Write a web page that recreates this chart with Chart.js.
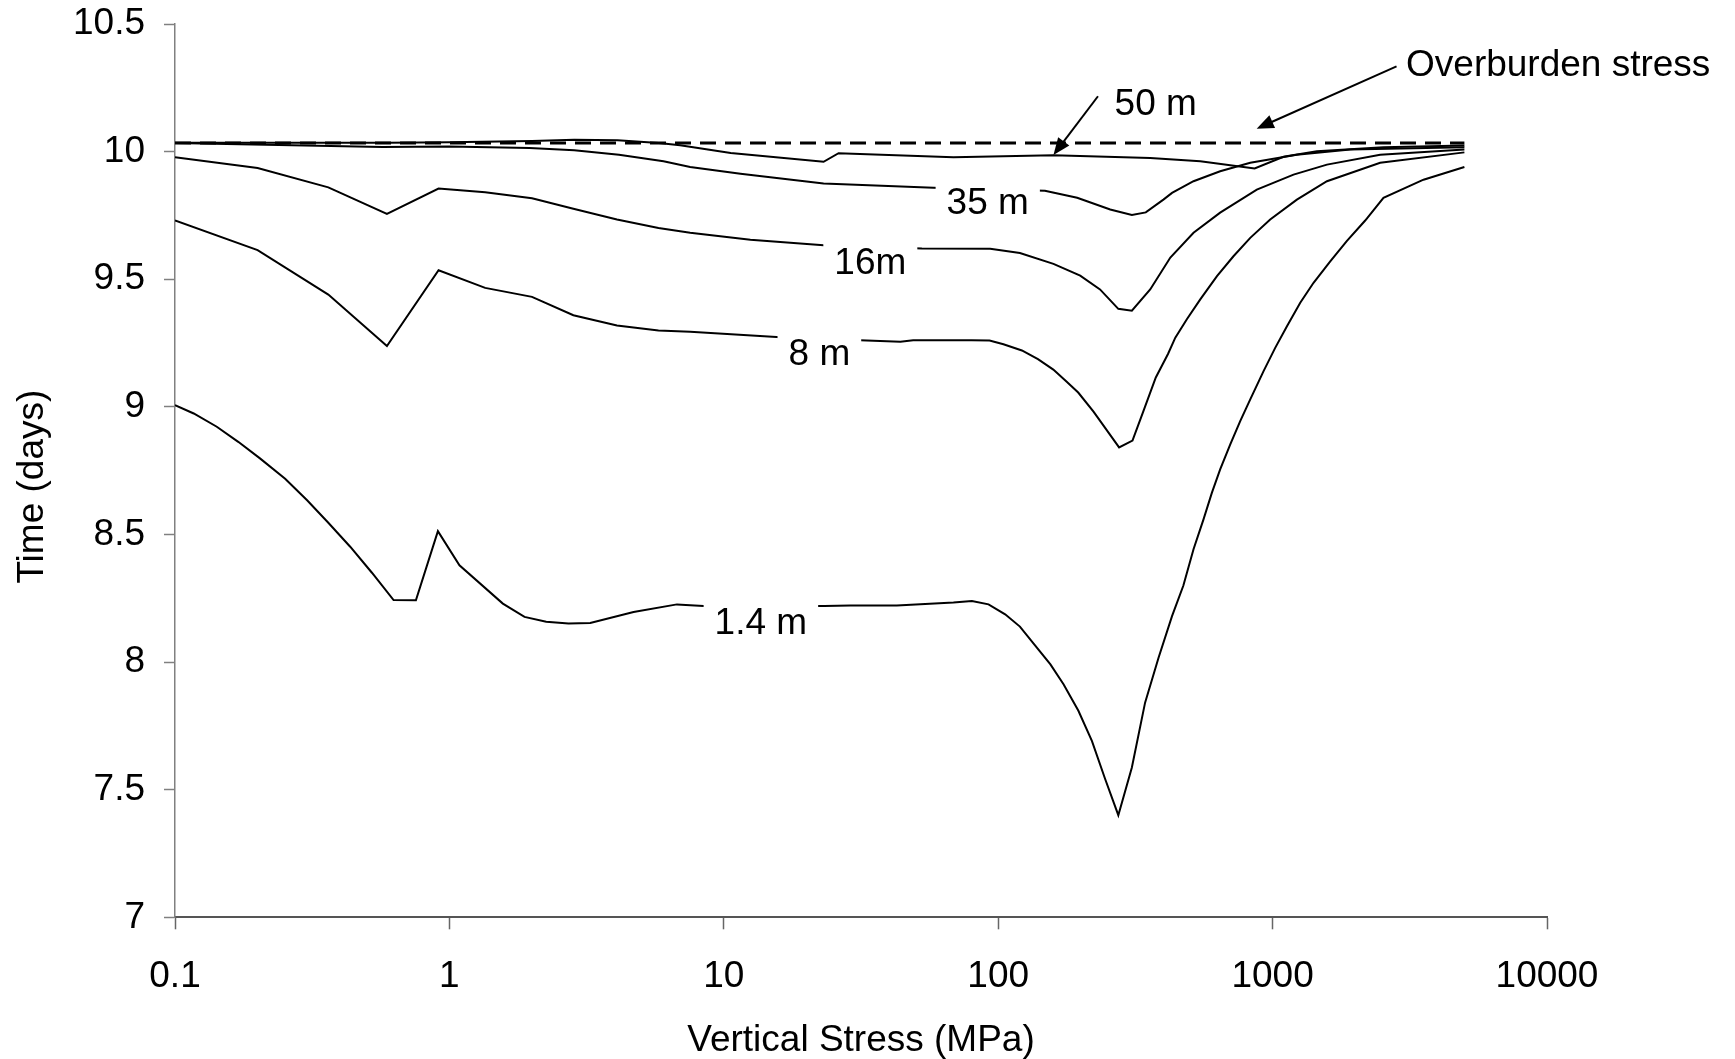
<!DOCTYPE html>
<html>
<head>
<meta charset="utf-8">
<title>Time vs Vertical Stress</title>
<script src="https://cdn.jsdelivr.net/npm/chart.js@4.4.1/dist/chart.umd.min.js"></script>
<style>
    html, body { margin: 0; padding: 0; background: #fff; overflow: hidden; }
    canvas { display: block; }
</style>
</head>
<body>
<canvas id="stressChart" width="1735" height="1059"></canvas>
<script>
// Time (days) against vertical stress (MPa), one curve per depth
// Each curve is a list of [stress, time] pairs

const overburden = [[0.1, 10.034], [5000, 10.034]];

const depth50 = [
    [0.1, 10.035], [0.6, 10.035], [1, 10.037], [2, 10.042], [2.85, 10.046], [4.1, 10.045],
    [5.8, 10.034], [6.93, 10.025], [10.6, 9.995], [23.1, 9.960], [26.2, 9.994], [68.7, 9.978],
    [159, 9.986], [358, 9.975], [545, 9.962], [860, 9.934], [1096, 9.980], [1450, 10.001],
    [2535, 10.017], [5000, 10.024]
];

const depth35 = [
    [0.1, 10.034], [0.57, 10.018], [1, 10.020], [1.96, 10.014], [2.85, 10.005], [4.15, 9.988],
    [6.03, 9.962], [7.54, 9.940], [11.5, 9.913], [23.1, 9.875], [58.1, 9.858], [148, 9.847],
    [194, 9.819], [256, 9.773], [307, 9.752], [345, 9.762], [400, 9.812], [430, 9.838],
    [515, 9.884], [644, 9.923], [829, 9.956], [1224, 9.988], [1918, 10.008], [5000, 10.017]
];

const depth16 = [
    [0.1, 9.978], [0.2, 9.936], [0.362, 9.860], [0.592, 9.756], [0.913, 9.855], [1.35, 9.841],
    [2, 9.817], [2.83, 9.776], [4.08, 9.734], [5.78, 9.701], [7.54, 9.682], [12.5, 9.655],
    [23.1, 9.633], [52.7, 9.620], [93.5, 9.619], [120, 9.603], [159, 9.560], [199, 9.514],
    [235, 9.460], [274, 9.384], [307, 9.377], [358, 9.460], [424, 9.585], [515, 9.682],
    [644, 9.761], [876, 9.851], [1192, 9.910], [1578, 9.949], [2466, 9.988], [5000, 10.008]
];

const depth8 = [
    [0.1, 9.730], [0.2, 9.614], [0.362, 9.440], [0.592, 9.238], [0.913, 9.535], [1.35, 9.466],
    [2, 9.431], [2.83, 9.359], [4.08, 9.319], [5.78, 9.299], [7.54, 9.294], [16.1, 9.273],
    [33.2, 9.260], [44, 9.255], [49, 9.261], [80, 9.261], [93, 9.260], [104.5, 9.245],
    [122, 9.221], [139.6, 9.187], [158.8, 9.146], [177.7, 9.098], [195.7, 9.056], [222.5, 8.981],
    [275.8, 8.841], [308.6, 8.868], [337.7, 8.981], [375.3, 9.115], [416.1, 9.208], [442, 9.271],
    [487, 9.343], [545, 9.421], [627, 9.512], [720, 9.590], [829, 9.662], [980, 9.734],
    [1226, 9.812], [1578, 9.884], [2466, 9.956], [5000, 9.997]
];

const depth1p4 = [
    [0.1, 9.007], [0.117, 8.974], [0.142, 8.922], [0.170, 8.863], [0.204, 8.798], [0.252, 8.718],
    [0.303, 8.634], [0.362, 8.546], [0.435, 8.452], [0.522, 8.350], [0.626, 8.243], [0.755, 8.242],
    [0.908, 8.513], [1.088, 8.379], [1.566, 8.229], [1.878, 8.177], [2.253, 8.158], [2.717, 8.151],
    [3.26, 8.153], [4.69, 8.196], [6.75, 8.226], [8.44, 8.220], [23.2, 8.220], [28.9, 8.222],
    [42.7, 8.222], [68.7, 8.233], [80.2, 8.239], [92.2, 8.226], [106, 8.187], [120, 8.139],
    [136, 8.066], [155, 7.991], [173, 7.913], [196, 7.809], [219.5, 7.691], [245.5, 7.541],
    [274, 7.400], [307, 7.587], [343, 7.841], [384, 8.017], [430, 8.180], [473, 8.300],
    [515, 8.442], [560, 8.559], [601, 8.664], [644, 8.755], [701, 8.853], [762, 8.944],
    [829, 9.029], [927, 9.140], [1022, 9.231], [1128, 9.316], [1261, 9.408], [1410, 9.486],
    [1622, 9.570], [1866, 9.650], [2175, 9.730], [2535, 9.819], [3548, 9.890], [5000, 9.940]
];

// Axis ticks
const xTicks = [0.1, 1, 10, 100, 1000, 10000];
const yTicks = [7, 7.5, 8, 8.5, 9, 9.5, 10, 10.5];

// In-plot labels and arrows (positions in data units)
const curveLabels = [
    { text: '35 m', x: 91.6, y: 9.81, mask: true },
    { text: '16m', x: 34.2, y: 9.577, mask: true },
    { text: '8 m', x: 22.3, y: 9.221, mask: true },
    { text: '1.4 m', x: 13.65, y: 8.164, mask: true },
    { text: '50 m', x: 375, y: 10.2, mask: false },
    { text: 'Overburden stress', x: 10985, y: 10.352, mask: false }
];

const arrows = [
    { from: [231, 10.217], to: [159, 9.987] },
    { from: [2829, 10.334], to: [875, 10.09] }
];

const FONT = "'Liberation Sans', Arial, sans-serif";
const toPoints = pairs => pairs.map(p => ({ x: p[0], y: p[1] }));

function drawArrow(ctx, x0, y0, x1, y1) {
    const a = Math.atan2(y1 - y0, x1 - x0);
    const len = 17, half = 7;
    ctx.beginPath();
    ctx.moveTo(x0, y0);
    ctx.lineTo(x1 - len * 0.6 * Math.cos(a), y1 - len * 0.6 * Math.sin(a));
    ctx.stroke();
    ctx.beginPath();
    ctx.moveTo(x1, y1);
    ctx.lineTo(x1 - len * Math.cos(a) + half * Math.sin(a), y1 - len * Math.sin(a) - half * Math.cos(a));
    ctx.lineTo(x1 - len * Math.cos(a) - half * Math.sin(a), y1 - len * Math.sin(a) + half * Math.cos(a));
    ctx.closePath();
    ctx.fill();
}

const annotationPlugin = {
    id: 'curveAnnotations',
    afterDatasetsDraw(chart) {
        const { ctx, scales: { x, y } } = chart;
        ctx.save();
        ctx.font = '37px ' + FONT;
        ctx.textAlign = 'center';
        ctx.textBaseline = 'middle';
        curveLabels.forEach(l => {
            const px = x.getPixelForValue(l.x);
            const py = y.getPixelForValue(l.y);
            if (l.mask) {
                // white box so the label sits in a break of its curve
                const w = ctx.measureText(l.text).width + 22;
                ctx.fillStyle = '#fff';
                ctx.fillRect(px - w / 2, py - 19, w, 42);
            }
            ctx.fillStyle = '#000';
            ctx.fillText(l.text, px, py + 4);
        });

        ctx.strokeStyle = '#000';
        ctx.fillStyle = '#000';
        ctx.lineWidth = 2;
        arrows.forEach(a => {
            drawArrow(ctx,
                x.getPixelForValue(a.from[0]), y.getPixelForValue(a.from[1]),
                x.getPixelForValue(a.to[0]), y.getPixelForValue(a.to[1]));
        });
        ctx.restore();
    },
    afterDraw(chart) {
        // y axis title, sitting a little below the middle of the axis as in the original
        const { ctx, chartArea } = chart;
        ctx.save();
        ctx.font = '37px ' + FONT;
        ctx.fillStyle = '#000';
        ctx.textAlign = 'center';
        ctx.textBaseline = 'middle';
        ctx.translate(33, (chartArea.top + chartArea.bottom) / 2 + 16);
        ctx.rotate(-Math.PI / 2);
        ctx.fillText('Time (days)', 0, 0);
        ctx.restore();
    }
};

Chart.defaults.font.family = FONT;
Chart.defaults.font.size = 37;
Chart.defaults.color = '#000';

const curveStyle = {
    borderColor: '#000',
    borderWidth: 2,
    pointRadius: 0,
    fill: false,
    tension: 0
};

new Chart(document.getElementById('stressChart'), {
    type: 'line',
    data: {
        datasets: [
            { label: 'Overburden stress', data: toPoints(overburden), ...curveStyle, borderWidth: 3, borderDash: [16, 9] },
            { label: '50 m', data: toPoints(depth50), ...curveStyle },
            { label: '35 m', data: toPoints(depth35), ...curveStyle },
            { label: '16m', data: toPoints(depth16), ...curveStyle },
            { label: '8 m', data: toPoints(depth8), ...curveStyle },
            { label: '1.4 m', data: toPoints(depth1p4), ...curveStyle }
        ]
    },
    options: {
        responsive: false,
        animation: false,
        layout: {
            padding: { left: 0, right: 188, top: 24, bottom: 0 }
        },
        plugins: {
            legend: { display: false },
            tooltip: { enabled: false }
        },
        scales: {
            x: {
                type: 'logarithmic',
                min: 0.1,
                max: 10000,
                afterBuildTicks: scale => {
                    scale.ticks = xTicks.map(v => ({ value: v }));
                },
                afterFit: scale => {
                    scale.height = 141.7;
                },
                ticks: {
                    autoSkip: false,
                    maxRotation: 0,
                    padding: 25,
                    callback: value => String(value)
                },
                grid: {
                    drawOnChartArea: false,
                    tickLength: 12,
                    tickColor: '#666',
                    tickWidth: 1.5
                },
                border: { color: '#555', width: 2 },
                title: {
                    display: true,
                    text: 'Vertical Stress (MPa)',
                    font: { lineHeight: 1 },
                    padding: { top: 0, bottom: 0 }
                }
            },
            y: {
                type: 'linear',
                min: 7,
                max: 10.5,
                afterBuildTicks: scale => {
                    scale.ticks = yTicks.map(v => ({ value: v }));
                },
                afterFit: scale => {
                    // fixed plot box: keep the tick labels from pushing the top edge down
                    scale.width = 175;
                    scale.paddingTop = 0;
                    scale.paddingBottom = 0;
                },
                ticks: {
                    autoSkip: false,
                    padding: 19,
                    callback: value => String(value)
                },
                grid: {
                    drawOnChartArea: false,
                    tickLength: 11,
                    tickColor: '#808080',
                    tickWidth: 1.5
                },
                border: { color: '#808080', width: 1.5 },
                title: { display: false }
            }
        }
    },
    plugins: [annotationPlugin]
});
</script>
</body>
</html>
